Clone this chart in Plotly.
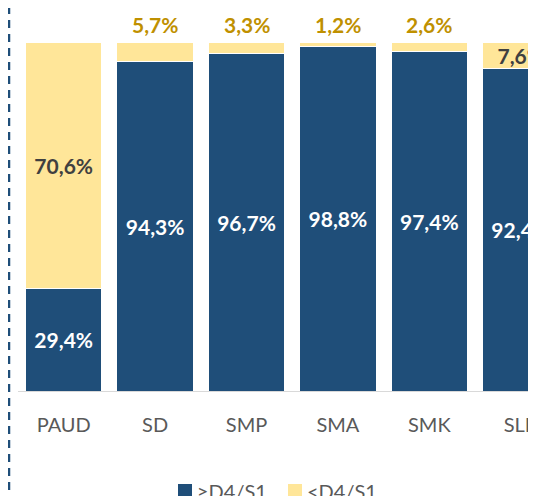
import plotly.graph_objects as go

categories = ["PAUD", "SD", "SMP", "SMA", "SMK", "SLB"]
above = [29.4, 94.3, 96.7, 98.8, 97.4, 92.4]   # >=D4/S1
below = [70.6, 5.7, 3.3, 1.2, 2.6, 7.6]        # <D4/S1
series_names = ["≥D4/S1", "<D4/S1"]

BLUE = "#1F4E79"
YELLOW = "#FFE699"
GOLD = "#BF9000"
DARK = "#404040"
GREY = "#595959"

W, H = 536, 510
L, T, B, R = 10, 34, 127, 0
PW, PH = W - L - R, H - T - B

def px(x):   # figure pixel x -> paper
    return (x - L) / PW

def py(y):   # figure pixel y -> paper
    return (H - B - y) / PH

def fmt(v):
    return f"{v:.1f}".replace(".", ",") + "%"

inside_below = [fmt(v) if v >= 7 else "" for v in below]

fig = go.Figure()
fig.add_trace(go.Bar(
    x=categories, y=above, name=series_names[0], showlegend=False,
    marker=dict(color=BLUE, line=dict(color="white", width=1)),
    text=[fmt(v) for v in above], textposition="inside",
    insidetextanchor="middle", textangle=0, constraintext="none",
    insidetextfont=dict(color="white", size=21, family="Lato", weight="bold"),
))
fig.add_trace(go.Bar(
    x=categories, y=below, name=series_names[1], showlegend=False,
    marker=dict(color=YELLOW, line=dict(color="white", width=1)),
    text=inside_below, textposition="inside",
    insidetextanchor="middle", textangle=0, constraintext="none",
    insidetextfont=dict(color=DARK, size=21, family="Lato", weight="bold"),
))

annotations = []
for c, a, b in zip(categories, above, below):
    if b < 7:
        annotations.append(dict(x=c, y=a + b, xref="x", yref="y", text=fmt(b),
                                showarrow=False, yanchor="bottom", yshift=3,
                                font=dict(color=GOLD, size=21, family="Lato",
                                          weight="bold")))

# manual legend (squares + labels)
legend_items = [(170, BLUE, series_names[0]), (280, YELLOW, series_names[1])]
shapes = []
for x0, col, name in legend_items:
    shapes.append(dict(type="rect", xref="paper", yref="paper",
                       x0=px(x0), x1=px(x0 + 14), y0=py(490), y1=py(476),
                       fillcolor=col, line=dict(width=0)))
    annotations.append(dict(xref="paper", yref="paper", x=px(x0 + 17), y=py(483),
                            xanchor="left", yanchor="middle", showarrow=False,
                            text=name, font=dict(size=20, color=GREY, family="Lato")))

shapes.append(dict(type="line", xref="paper", yref="paper",
                   x0=px(1), x1=px(1), y0=py(H), y1=py(-10),
                   line=dict(color=BLUE, width=2.5, dash="8px,6px")))

fig.update_layout(
    width=W, height=H,
    barmode="stack", bargap=0.165,
    margin=dict(l=L, r=R, t=T, b=B),
    plot_bgcolor="white", paper_bgcolor="white",
    font=dict(family="Lato", color=GREY, size=19),
    xaxis=dict(range=[-0.5, 5.255], showline=True, linecolor="#D9D9D9",
               linewidth=1, ticks="", showgrid=False,
               tickfont=dict(size=20, color=GREY), ticklabelstandoff=16),
    yaxis=dict(range=[0, 100], visible=False),
    showlegend=False,
    shapes=shapes,
    annotations=annotations,
)

fig.write_html("out.html")
